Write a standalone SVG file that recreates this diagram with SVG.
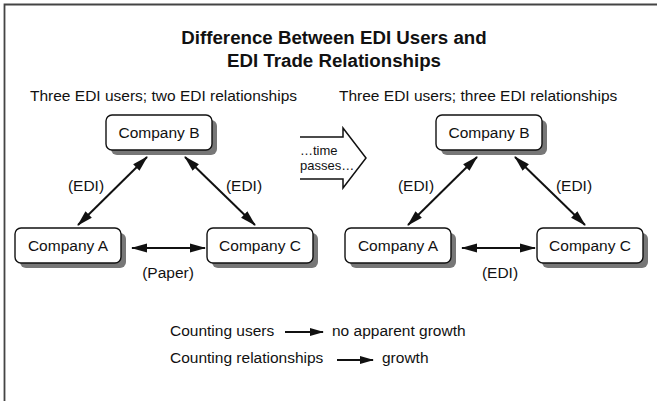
<svg xmlns="http://www.w3.org/2000/svg" width="657" height="401" viewBox="0 0 657 401">
<style>
text{font-family:"Liberation Sans",Arial,sans-serif;fill:#111}
.t{font-size:18.7px;font-weight:bold;text-anchor:middle}
.s{font-size:15.5px}
.n{font-size:15.5px;text-anchor:middle}
.l{font-size:15.5px;text-anchor:middle}
.sm{font-size:13px}
.box{fill:#fff;stroke:#111;stroke-width:1.4}
.sh{fill:#777}
.c{stroke:#111;stroke-width:2;fill:none;marker-start:url(#ah);marker-end:url(#ah)}
.c1{stroke:#111;stroke-width:2;fill:none;marker-end:url(#ah2)}
</style>
<defs>
<marker id="ah" markerUnits="userSpaceOnUse" markerWidth="16" markerHeight="10" refX="15" refY="5" orient="auto-start-reverse" viewBox="0 0 16 10">
<path d="M0,0.5 L16,5 L0,9.5 z" fill="#111"/>
</marker>
<marker id="ah2" markerUnits="userSpaceOnUse" markerWidth="14" markerHeight="10" refX="13" refY="5" orient="auto" viewBox="0 0 14 10">
<path d="M0,1 L14,5 L0,9 z" fill="#111"/>
</marker>
</defs>
<rect width="657" height="401" fill="#fff"/>
<path d="M4.5,401 V4.5 H657" fill="none" stroke="#444" stroke-width="1.8"/>
<g id="title">
<text class="t" x="334" y="44">Difference Between EDI Users and</text>
<text class="t" x="334" y="67">EDI Trade Relationships</text>
</g>
<text class="s" x="30" y="101">Three EDI users; two EDI relationships</text>
<text class="s" x="339" y="101">Three EDI users; three EDI relationships</text>
<g id="time-arrow">
<path d="M300,137 H343 V128 L366,158 L343,188 V179 H300" fill="#fff" stroke="#111" stroke-width="1.5"/>
<text class="sm" x="300" y="155">…time</text>
<text class="sm" x="300" y="170">passes…</text>
</g>
<g id="left-company-b"><rect class="sh" x="111" y="120" width="106" height="35" rx="6"/><rect class="box" x="106" y="115" width="106" height="35" rx="6"/><text class="n" x="159" y="138">Company B</text></g>
<g id="left-company-a"><rect class="sh" x="20" y="233" width="106" height="35" rx="6"/><rect class="box" x="15" y="228" width="106" height="35" rx="6"/><text class="n" x="68" y="251">Company A</text></g>
<g id="left-company-c"><rect class="sh" x="212" y="233" width="106" height="35" rx="6"/><rect class="box" x="207" y="228" width="106" height="35" rx="6"/><text class="n" x="260" y="251">Company C</text></g>
<g id="right-company-b"><rect class="sh" x="441" y="120" width="106" height="35" rx="6"/><rect class="box" x="436" y="115" width="106" height="35" rx="6"/><text class="n" x="489" y="138">Company B</text></g>
<g id="right-company-a"><rect class="sh" x="350" y="233" width="106" height="35" rx="6"/><rect class="box" x="345" y="228" width="106" height="35" rx="6"/><text class="n" x="398" y="251">Company A</text></g>
<g id="right-company-c"><rect class="sh" x="542" y="233" width="106" height="35" rx="6"/><rect class="box" x="537" y="228" width="106" height="35" rx="6"/><text class="n" x="590" y="251">Company C</text></g>
<g id="connectors">
<line class="c" x1="147" y1="157" x2="78" y2="225"/>
<line class="c" x1="185" y1="157" x2="255" y2="225"/>
<line class="c" x1="132" y1="248" x2="205" y2="248"/>
<line class="c" x1="477" y1="157" x2="408" y2="225"/>
<line class="c" x1="515" y1="157" x2="585" y2="225"/>
<line class="c" x1="462" y1="248" x2="535" y2="248"/>
<line class="c1" x1="285" y1="332" x2="323" y2="332"/>
<line class="c1" x1="337" y1="360" x2="373" y2="360"/>
</g>
<g id="labels">
<text class="l" x="86" y="191">(EDI)</text>
<text class="l" x="244" y="191">(EDI)</text>
<text class="l" x="168" y="278">(Paper)</text>
<text class="l" x="416" y="191">(EDI)</text>
<text class="l" x="574" y="191">(EDI)</text>
<text class="l" x="500" y="278">(EDI)</text>
</g>
<g id="legend">
<text class="s" x="170" y="336">Counting users</text>
<text class="s" x="332" y="336">no apparent growth</text>
<text class="s" x="170" y="363">Counting relationships</text>
<text class="s" x="382" y="363">growth</text>
</g>
</svg>
